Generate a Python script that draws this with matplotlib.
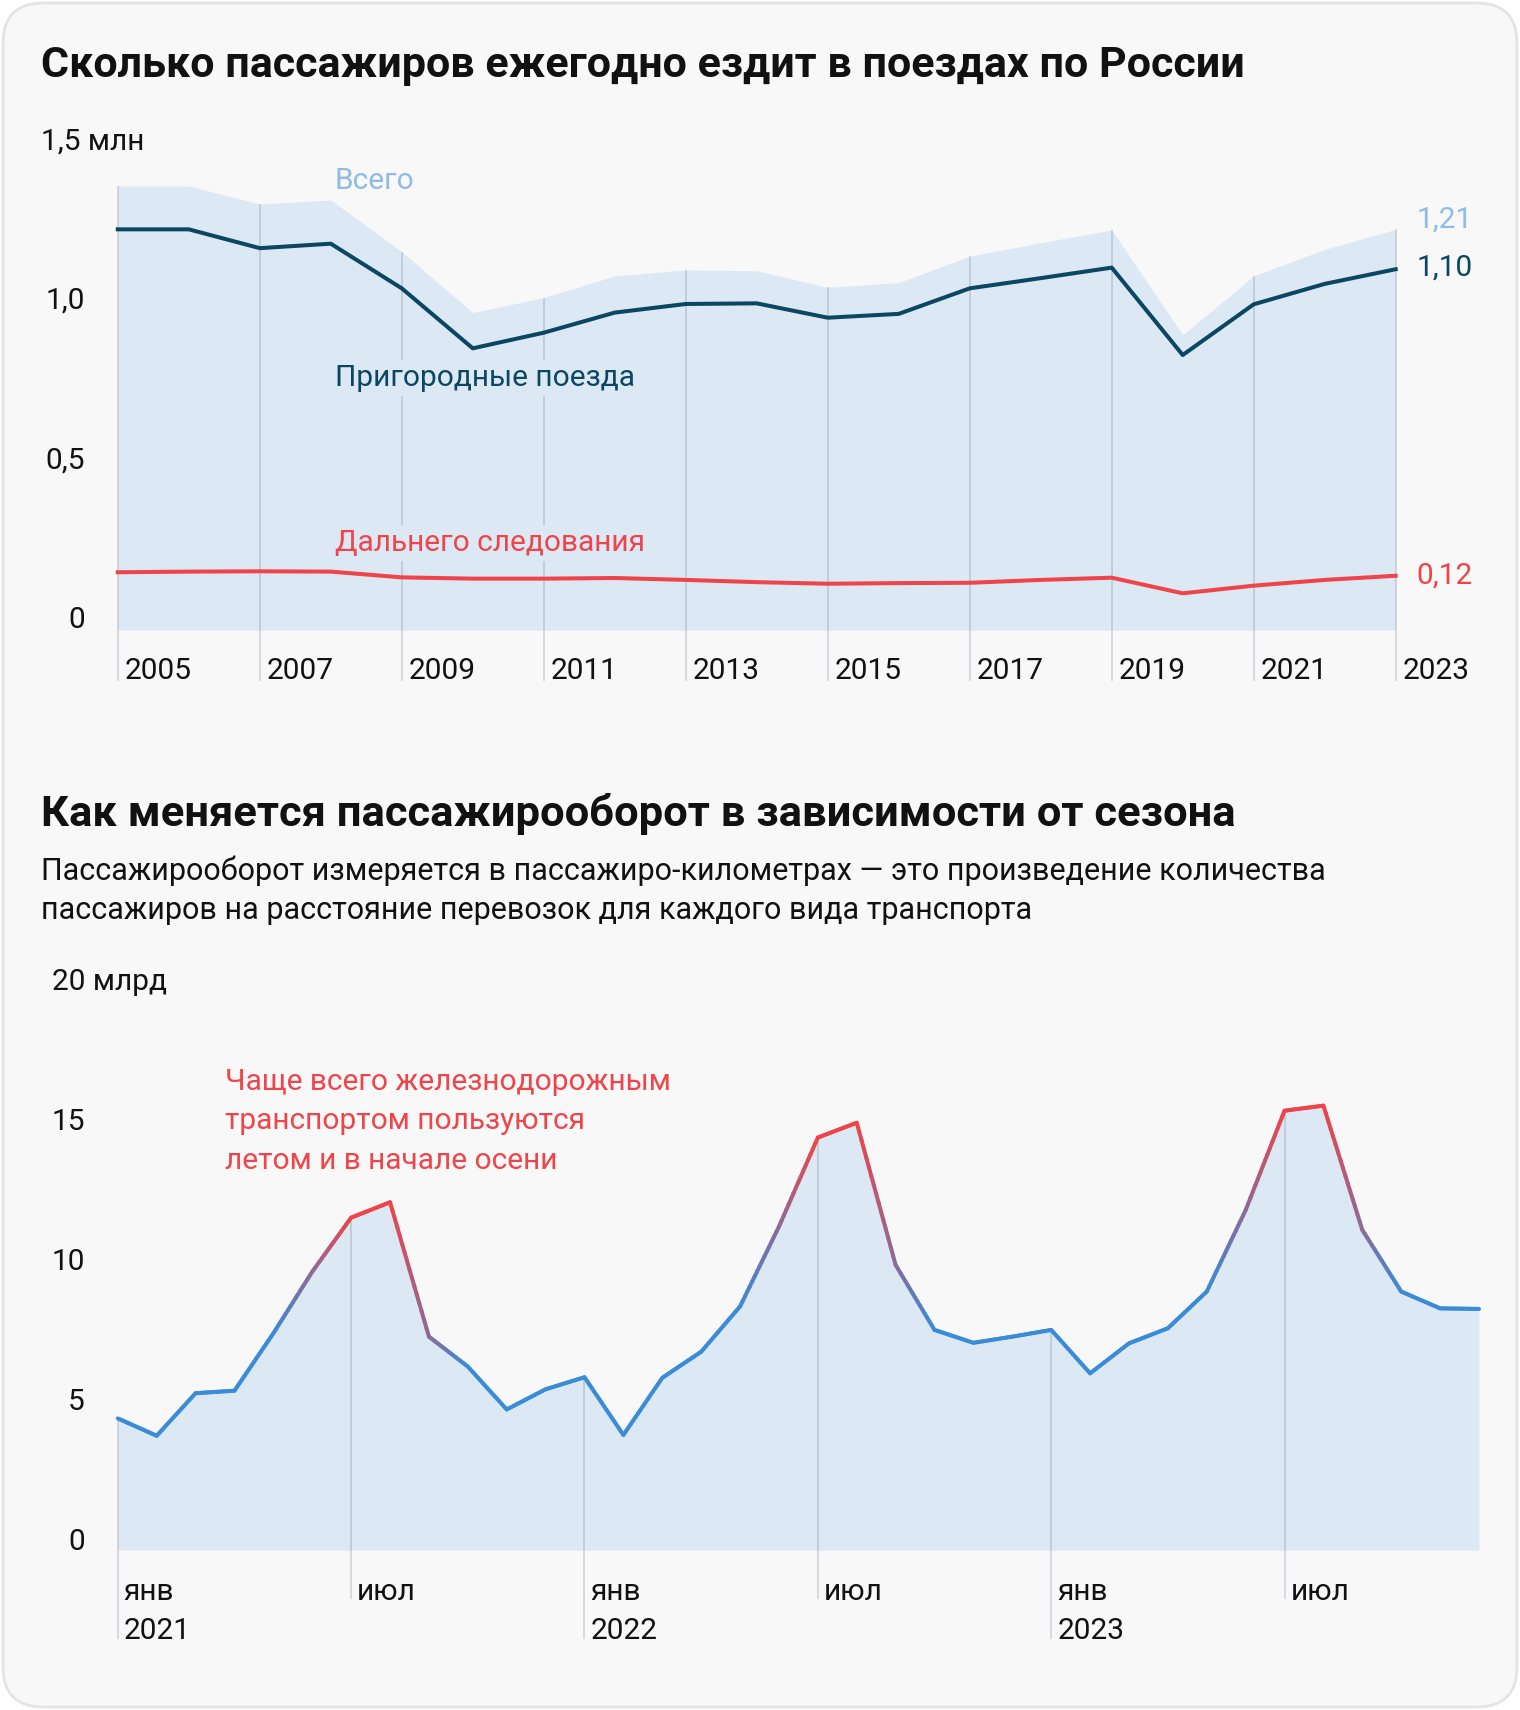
import numpy as np
import matplotlib.pyplot as plt
from matplotlib.patches import FancyBboxPatch
from matplotlib.collections import LineCollection
from matplotlib.colors import to_rgb

plt.rcParams['font.family'] = ['Roboto', 'DejaVu Sans']

W, H = 1520, 1710

# --- top chart: passengers per year ---
years = list(range(2005, 2024))
total = [1.392, 1.392, 1.335, 1.348, 1.186, 0.995, 1.042, 1.110, 1.129, 1.126,
         1.074, 1.089, 1.172, 1.214, 1.254, 0.925, 1.110, 1.193, 1.256]
suburban = [1.256, 1.256, 1.197, 1.211, 1.071, 0.883, 0.932, 0.995, 1.022, 1.024,
            0.979, 0.991, 1.071, 1.103, 1.136, 0.862, 1.021, 1.085, 1.131]
long_distance = [0.181, 0.183, 0.184, 0.183, 0.165, 0.161, 0.161, 0.163, 0.157, 0.150,
                 0.145, 0.147, 0.148, 0.157, 0.164, 0.115, 0.139, 0.157, 0.170]
end_labels = ['1,21', '1,10', '0,12']
top_yticks = [0, 0.5, 1.0, 1.5]
top_ylabels = ['0', '0,5', '1,0', '1,5 млн']
top_xticks = list(range(2005, 2024, 2))

# --- bottom chart: monthly passenger turnover, bn pkm ---
months = list(range(36))
turnover = [4.70, 4.08, 5.60, 5.69, 7.74, 9.94, 11.87, 12.42, 7.62, 6.55, 5.02, 5.74,
            6.17, 4.11, 6.15, 7.08, 8.70, 11.55, 14.73, 15.26, 10.18, 7.86, 7.40, 7.62,
            7.86, 6.31, 7.38, 7.92, 9.23, 12.14, 15.69, 15.87, 11.43, 9.23, 8.63, 8.61]
bot_yticks = [0, 5, 10, 15, 20]
bot_ylabels = ['0', '5', '10', '15', '20 млрд']
month_ticks = [0, 6, 12, 18, 24, 30]
month_names = ['янв', 'июл', 'янв', 'июл', 'янв', 'июл']
year_names = ['2021', '', '2022', '', '2023', '']
# how "summery" each calendar month is drawn (colour weight)
summer = [0, 0, 0, 0, 0, 0.45, 1, 1, 0.45, 0, 0, 0]

BG = '#f8f8f8'
FILL = '#dce8f4'
NAVY = '#0b4763'
LIGHT = '#8ebce6'
RED = '#ef4449'
BLUE = '#3a8bd8'
GRID = (0.45, 0.5, 0.58, 0.28)
TXT = '#111111'
FS = 21.5


def px_axes(fig, left, top, right, bottom):
    return fig.add_axes([left / W, 1 - bottom / H, (right - left) / W, (bottom - top) / H])


def fig_text(fig, x, y, s, **kw):
    fig.text(x / W, 1 - y / H, s, **kw)


fig = plt.figure(figsize=(W / 100, H / 100), dpi=100, facecolor='white')
card = FancyBboxPatch((0.03, 0.03), W / 100 - 0.06, H / 100 - 0.06,
                      boxstyle='round,pad=0,rounding_size=0.4',
                      transform=fig.dpi_scale_trans, facecolor=BG,
                      edgecolor='#e4e4e4', linewidth=2, zorder=-10)
fig.patches.append(card)

# ================= top chart =================
L1, R1, T1, B1 = 117.8, 1395.7, 151.5, 630
ax1 = px_axes(fig, L1, T1, R1, B1)
ax1.set_xlim(2005, 2023)
ax1.set_ylim(0, 1.5)
ax1.axis('off')

ax1.fill_between(years, 0, total, color=FILL, lw=0, zorder=1)
grid_bottom = -(681 - B1) / 319
for yr in top_xticks:
    v = total[years.index(yr)]
    ln = ax1.vlines(yr, grid_bottom, v, color=GRID, lw=1.3, zorder=2)
    ln.set_clip_on(False)
    ax1.annotate(str(yr), xy=(yr, 0), xytext=(7, -41), textcoords='offset pixels',
                 ha='left', va='center', fontsize=FS, color=TXT, annotation_clip=False)

box = dict(boxstyle='square,pad=0.15', facecolor=FILL, edgecolor='none')
lab_x = 2005 + (334.7 - L1) / (R1 - L1) * 18
ax1.text(lab_x, (B1 - 378) / 319, 'Пригородные поезда',
         ha='left', va='center', fontsize=FS, color=NAVY, bbox=box, zorder=3)
ax1.text(lab_x, (B1 - 543) / 319, 'Дальнего следования',
         ha='left', va='center', fontsize=FS, color=RED, bbox=box, zorder=3)
ax1.text(lab_x, (B1 - 181) / 319, 'Всего',
         ha='left', va='center', fontsize=FS, color=LIGHT, zorder=3, clip_on=False)

ax1.plot(years, suburban, color=NAVY, lw=2.9, zorder=4, clip_on=False)
ax1.plot(years, long_distance, color=RED, lw=2.9, zorder=4, clip_on=False)

for v, lab in zip(top_yticks, top_ylabels):
    if 'млн' in lab:
        ax1.annotate(lab, xy=((41 - L1) / (R1 - L1), v), xycoords=ax1.get_yaxis_transform(),
                     xytext=(0, 2), textcoords='offset pixels',
                     ha='left', va='baseline', fontsize=FS, color=TXT)
    else:
        ax1.annotate(lab, xy=((85 - L1) / (R1 - L1), v), xycoords=ax1.get_yaxis_transform(),
                     xytext=(0, 2), textcoords='offset pixels',
                     ha='right', va='baseline', fontsize=FS, color=TXT)

for series, lab, col, dy in zip([total, suburban, long_distance], end_labels,
                                [LIGHT, NAVY, RED], [10, 2, 0]):
    ax1.annotate(lab, xy=(years[-1], series[-1]), xytext=(21, dy),
                 textcoords='offset pixels', ha='left', va='center',
                 fontsize=FS, color=col, annotation_clip=False)

fig_text(fig, 41, 65, 'Сколько пассажиров ежегодно ездит в поездах по России',
         ha='left', va='center', fontsize=31.0, fontweight='bold', color=TXT)

# ================= bottom chart =================
fig_text(fig, 41, 813.5, 'Как меняется пассажирооборот в зависимости от сезона',
         ha='left', va='center', fontsize=31.3, fontweight='bold', color=TXT)
fig_text(fig, 41, 871, 'Пассажирооборот измеряется в пассажиро-километрах — это '
         'произведение количества', ha='left', va='center', fontsize=22, color=TXT)
fig_text(fig, 41, 910.4, 'пассажиров на расстояние перевозок для каждого вида транспорта',
         ha='left', va='center', fontsize=22, color=TXT)

L2, R2, T2, B2 = 117.8, 1479, 990, 1550
ax2 = px_axes(fig, L2, T2, R2, B2)
ax2.set_xlim(0, 35)
ax2.set_ylim(0, 20)
ax2.axis('off')

ax2.fill_between(months, 0, turnover, color=FILL, lw=0, zorder=1)

for m, name, yr in zip(month_ticks, month_names, year_names):
    low = -(1639 - B2) / 28 if yr else -(1599 - B2) / 28
    ln = ax2.vlines(m, low, turnover[m], color=GRID, lw=1.3, zorder=2)
    ln.set_clip_on(False)
    ax2.annotate(name, xy=(m, 0), xytext=(6, -42), textcoords='offset pixels',
                 ha='left', va='center', fontsize=FS, color=TXT, annotation_clip=False)
    if yr:
        ax2.annotate(yr, xy=(m, 0), xytext=(6, -81), textcoords='offset pixels',
                     ha='left', va='center', fontsize=FS, color=TXT,
                     annotation_clip=False)

# gradient line: blue in cold months, red in summer
blue = np.array(to_rgb(BLUE))
red = np.array(to_rgb(RED))
wts = [summer[m % 12] for m in months]
segs, cols = [], []
n_sub = 16
for i in range(len(months) - 1):
    for k in range(n_sub):
        t0, t1 = k / n_sub, (k + 1) / n_sub
        x0 = months[i] + t0 * (months[i + 1] - months[i])
        x1 = months[i] + t1 * (months[i + 1] - months[i])
        y0 = turnover[i] + t0 * (turnover[i + 1] - turnover[i])
        y1 = turnover[i] + t1 * (turnover[i + 1] - turnover[i])
        tm = (t0 + t1) / 2
        w = wts[i] + tm * (wts[i + 1] - wts[i])
        segs.append([(x0, y0), (x1, y1)])
        cols.append(blue * (1 - w) + red * w)
lc = LineCollection(segs, colors=cols, linewidths=2.9, capstyle='round', zorder=4)
lc.set_clip_on(False)
ax2.add_collection(lc)

for v, lab in zip(bot_yticks, bot_ylabels):
    if 'млрд' in lab:
        ax2.text((52.3 - L2) / (R2 - L2), v, lab, transform=ax2.get_yaxis_transform(),
                 ha='left', va='baseline', fontsize=FS, color=TXT)
    else:
        ax2.text((85 - L2) / (R2 - L2), v, lab, transform=ax2.get_yaxis_transform(),
                 ha='right', va='baseline', fontsize=FS, color=TXT)

note = ['Чаще всего железнодорожным', 'транспортом пользуются', 'летом и в начале осени']
for i, line in enumerate(note):
    fig_text(fig, 224.6, 1082 + 39.3 * i, line, ha='left', va='center',
             fontsize=FS, color=RED)

fig.savefig('out.png', dpi=100, facecolor='white')
